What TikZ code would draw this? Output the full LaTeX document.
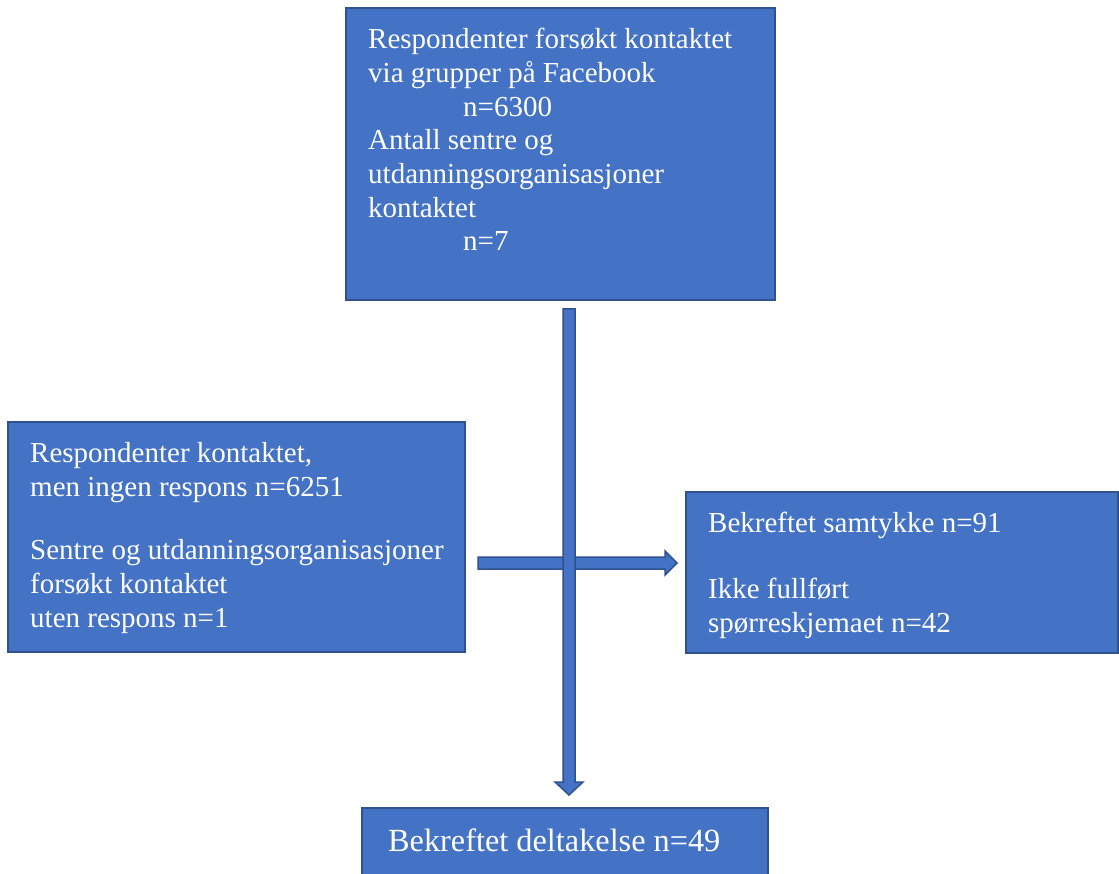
\documentclass[tikz,border=0pt]{standalone}
\usepackage{fontspec}
\setmainfont{Liberation Serif}
\usetikzlibrary{calc}
\definecolor{boxblue}{HTML}{4472C4}
\definecolor{edgeblue}{HTML}{2F528F}

\tikzset{
  box/.style={draw=edgeblue, fill=boxblue, line width=2pt, inner sep=0pt, outer sep=0pt, anchor=north west},
  boxtext/.style={text=white, align=left, inner sep=0pt, anchor=north west, font=\fontsize{29}{33.7}\selectfont},
  blockarrow/.style={draw=edgeblue, fill=boxblue, line width=1.5pt, line join=miter}
}

\begin{document}
\begin{tikzpicture}[x=1pt,y=-1pt]
  \useasboundingbox (0,0) rectangle (1119,874);
  % boxes
  \node[box, minimum width=429pt, minimum height=292pt] (src) at (346,8) {};
  \node[box, minimum width=457pt, minimum height=230pt] (excl) at (8,422) {};
  \node[box, minimum width=432pt, minimum height=161pt] (cons) at (686,492) {};
  \node[box, minimum width=406pt, minimum height=80pt] (out) at (362,808) {};
  % texts
  \node[boxtext] (srctext) at ($(src.north west)+(22,20)$) {Respondenter forsøkt kontaktet\\via grupper på Facebook\\\hspace*{95pt}n=6300\\Antall sentre og\\utdanningsorganisasjoner\\kontaktet\\\hspace*{95pt}n=7};
  \node[boxtext] (excltext) at ($(excl.north west)+(22,20)$) {Respondenter kontaktet,\\men ingen respons n=6251\\[30pt]Sentre og utdanningsorganisasjoner\\forsøkt kontaktet\\uten respons n=1};
  \node[boxtext] (constext) at ($(cons.north west)+(22,20)$) {Bekreftet samtykke n=91\\[32pt]Ikke fullført\\spørreskjemaet n=42};
  \node[boxtext, font=\fontsize{32.3}{37}\selectfont] (outtext) at ($(out.north west)+(26,21)$) {Bekreftet deltakelse n=49};
  % horizontal arrow
  \coordinate (hstart) at ($(excl.north east)+(13,141)$);
  \coordinate (htip) at ($(hstart -| cons.west)+(-9,0)$);
  \filldraw[blockarrow] ($(hstart)+(0,-6)$) -- ($(htip)+(-12,-6)$) -- ($(htip)+(-12,-12)$) -- (htip)
    -- ($(htip)+(-12,12)$) -- ($(htip)+(-12,6)$) -- ($(hstart)+(0,6)$) -- cycle;
  % vertical arrow
  \coordinate (vtop) at ($(src.south)+(8.5,9)$);
  \coordinate (vtip) at ($(vtop |- out.north)+(0,-13)$);
  \filldraw[blockarrow] ($(vtop)+(-6,0)$) -- ($(vtip)+(-6,-13)$) -- ($(vtip)+(-14,-13)$) -- (vtip)
    -- ($(vtip)+(14,-13)$) -- ($(vtip)+(6,-13)$) -- ($(vtop)+(6,0)$) -- cycle;
\end{tikzpicture}
\end{document}
